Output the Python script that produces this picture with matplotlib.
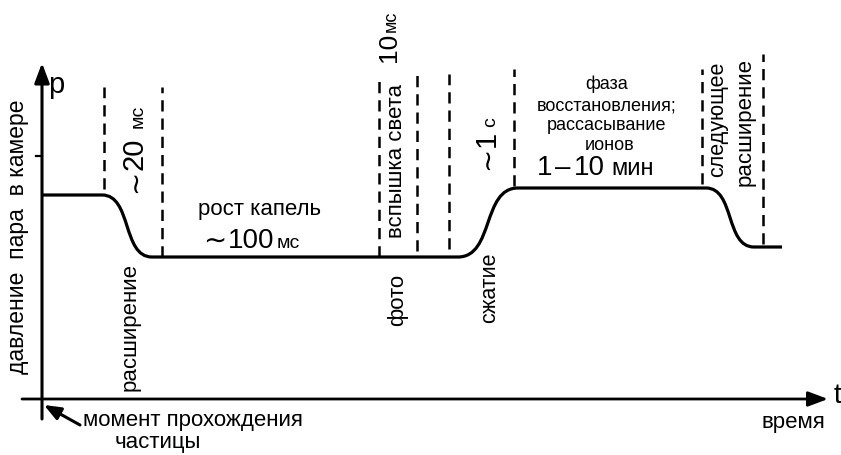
import matplotlib
matplotlib.use("Agg")
import matplotlib.pyplot as plt
from matplotlib.path import Path
from matplotlib.patches import PathPatch, FancyArrowPatch

plt.rcParams['font.family'] = ['Liberation Sans', 'DejaVu Sans']

# ---- data (time units / pressure units) ----
phase_t = [0, 60, 110, 416, 476, 664, 712, 740]     # breakpoints of the pressure curve
phase_p = [205, 205, 143, 143, 212, 212, 153, 153]   # pressure at breakpoints

marker_t = [62, 120, 337, 375, 407, 472, 660, 721]   # dashed phase markers
marker_top = [313, 313, 321, 326, 326, 331, 331, 346]
marker_bot = [211, 143, 143, 149, 151, 214, 216, 156]

ytick_p = [244]

fig = plt.figure(figsize=(8.41, 4.56), dpi=100)
ax = fig.add_axes([0, 0, 1, 1])
ax.set_xlim(-42, 799)
ax.set_ylim(-55, 401)
ax.axis('off')

# ---- pressure curve with smooth transitions ----
verts = [(phase_t[0], phase_p[0]), (phase_t[1], phase_p[1])]
codes = [Path.MOVETO, Path.LINETO]
k = 0.6
for i in range(1, len(phase_t) - 1, 2):
    t0, p0 = phase_t[i], phase_p[i]
    t1, p1 = phase_t[i + 1], phase_p[i + 1]
    dt = t1 - t0
    verts += [(t0 + k * dt, p0), (t1 - k * dt, p1), (t1, p1)]
    codes += [Path.CURVE4] * 3
    if i + 2 < len(phase_t):
        verts.append((phase_t[i + 2], phase_p[i + 2]))
        codes.append(Path.LINETO)
ax.add_patch(PathPatch(Path(verts, codes), fill=False, lw=2.3, color='black',
                       capstyle='butt', joinstyle='round'))

# ---- dashed markers ----
for t, top, bot in zip(marker_t, marker_top, marker_bot):
    ax.plot([t, t], [bot, top], color='black', lw=1.8, dashes=(4.5, 2.8))

# ---- axes with arrows ----
ax.add_patch(FancyArrowPatch((0, -19), (0, 337), arrowstyle='-|>,head_length=8,head_width=3',
                             lw=2.2, color='black', mutation_scale=1.5, shrinkA=0, shrinkB=0))
ax.add_patch(FancyArrowPatch((-20, 1), (786, 1), arrowstyle='-|>,head_length=8,head_width=3',
                             lw=2.0, color='black', mutation_scale=1.5, shrinkA=0, shrinkB=0))
for p in ytick_p:
    ax.plot([-6, 0], [p, p], color='black', lw=1.6)

# particle arrow
ax.annotate('', xy=(2, -5), xytext=(38, -25),
            arrowprops=dict(arrowstyle='-|>,head_length=1.0,head_width=0.4', lw=2.2, color='black',
                            shrinkA=0, shrinkB=0))

def T(x, y, s, **kw):
    ax.text(x, y, s, color='black', **kw)

# axis labels
T(14, 316, 'p', fontsize=21, ha='center', va='center')
T(795, 5, 't', fontsize=20, ha='center', va='center')
T(-24, 164, 'давление  пара  в камере', fontsize=16.5, rotation=90, ha='center', va='center')
T(41, -20, 'момент прохождения', fontsize=16, ha='left', va='center')
T(116, -42, 'частицы', fontsize=16, ha='center', va='center')
T(751, -22, 'время', fontsize=16, ha='center', va='center')

# phase annotations
T(88, 74, 'расширение', fontsize=16, rotation=90, ha='center', va='center')
T(218, 191, 'рост капель', fontsize=16, ha='center', va='center')
T(355, 240, 'вспышка света', fontsize=16, rotation=90, ha='center', va='center')
T(356, 101, 'фото', fontsize=16, rotation=90, ha='center', va='center')
T(448, 113, 'сжатие', fontsize=15.5, rotation=90, ha='center', va='center')
T(565, 317, 'фаза', fontsize=13, ha='center', va='center')
T(565, 295, 'восстановления;', fontsize=13, ha='center', va='center')
T(565, 275, 'рассасывание', fontsize=13, ha='center', va='center')
T(568, 255, 'ионов', fontsize=13, ha='center', va='center')
T(676, 282, 'следующее', fontsize=15.5, rotation=90, ha='center', va='center')
T(703, 279, 'расширение', fontsize=16, rotation=90, ha='center', va='center')

# durations (composite sizes)
anc = dict(rotation=90, rotation_mode='anchor', ha='left', va='baseline')
T(101, 208, '∼', fontsize=20, family=['DejaVu Sans'], **anc)
T(101, 231, '20', fontsize=21, **anc)
T(101, 273, 'мс', fontsize=14, **anc)

T(161, 153, '∼', fontsize=20, family=['DejaVu Sans'], ha='left', va='baseline')
T(186, 153, '100', fontsize=20, ha='left', va='baseline')
T(235, 153, 'мс', fontsize=14, ha='left', va='baseline')

T(453, 231, '∼', fontsize=20, family=['DejaVu Sans'], **anc)
T(453, 254, '1', fontsize=21, **anc)
T(453, 274, 'с', fontsize=14, **anc)

T(354, 339, '10', fontsize=19, **anc)
T(354, 369, 'мс', fontsize=13, **anc)

T(495, 226, '1', fontsize=20, ha='left', va='baseline')
T(513, 226, '–', fontsize=20, ha='left', va='baseline')
T(532, 226, '10', fontsize=20, ha='left', va='baseline')
T(569, 226, 'мин', fontsize=17, ha='left', va='baseline')

fig.savefig('out.png', dpi=100)
